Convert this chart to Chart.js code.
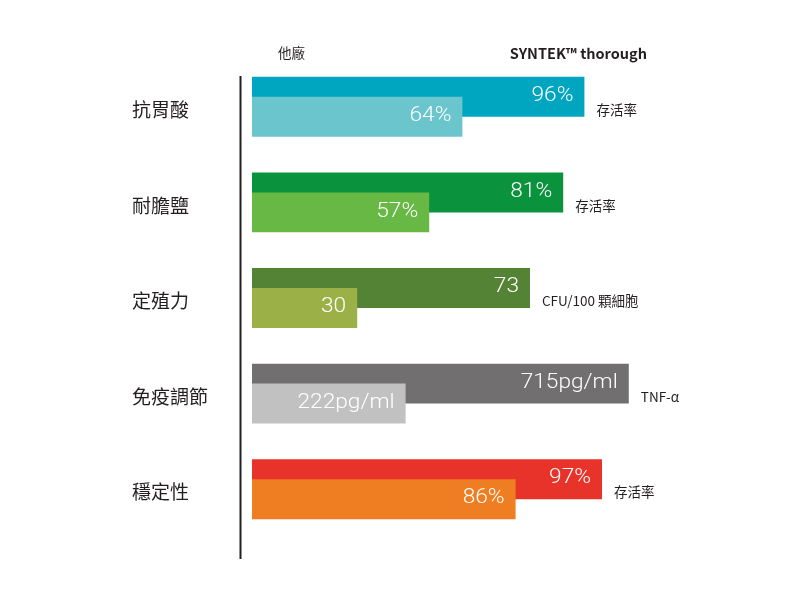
<!DOCTYPE html>
<html>
<head>
<meta charset="utf-8">
<script src="https://cdn.jsdelivr.net/npm/chart.js@4/dist/chart.umd.min.js"></script>
<style>
  html, body { margin: 0; padding: 0; background: #ffffff; }
  #wrap { width: 800px; height: 600px; }
</style>
</head>
<body>
<div id="wrap"><canvas id="c"></canvas></div>
<script>
// ---- data ----
const categories = ['抗胃酸', '耐膽鹽', '定殖力', '免疫調節', '穩定性'];
const seriesNames = ['SYNTEK™ thorough', '他廠'];
const syntekValues = [96, 81, 73, 715, 97];
const otherValues = [64, 57, 30, 222, 86];
const valueUnits = ['%', '%', '', 'pg/ml', '%'];
const measureLabels = ['存活率', '存活率', 'CFU/100 顆細胞', 'TNF-α', '存活率'];
// bar lengths as drawn in the picture (relative index, 0–100)
const syntekBar = [83.1, 77.8, 69.5, 94.2, 87.5];
const otherBar = [52.6, 44.3, 26.3, 38.4, 65.9];

// ---- styles ----
const syntekColors = ['#00a6bf', '#0a923c', '#548335', '#716f70', '#e8332a'];
const otherColors = ['#6bc5cc', '#67b845', '#9bb147', '#c1c1c1', '#ef7e22'];
const textColor = '#231f20';

const syntekLabels = syntekValues.map((v, i) => v + valueUnits[i]);
const otherLabels = otherValues.map((v, i) => v + valueUnits[i]);

const overlay = {
  id: 'overlay',
  beforeDatasetsDraw(chart) {
    // draw SYNTEK bars first so the competitor bars overlap them
    for (let i = 0; i < chart.data.datasets.length; i++) {
      const meta = chart.getDatasetMeta(i);
      if (!meta.hidden) meta.controller.draw();
    }
    return false;
  },
  afterDraw(chart) {
    const ctx = chart.ctx;
    const area = chart.chartArea;
    const yScale = chart.scales.y;
    ctx.save();

    // vertical axis line
    ctx.strokeStyle = textColor;
    ctx.lineWidth = 2;
    ctx.beginPath();
    ctx.moveTo(area.left - 11.5, area.top + 17);
    ctx.lineTo(area.left - 11.5, area.bottom + 22);
    ctx.stroke();

    // value labels inside bars
    const drawVal = (el, text) => {
      ctx.save();
      ctx.font = '300 21px Roboto';
      ctx.fillStyle = '#ffffff';
      ctx.textAlign = 'right';
      ctx.textBaseline = 'middle';
      ctx.translate(el.x - 11, el.y - 1);
      ctx.scale(1.08, 1);
      ctx.fillText(text, 0, 0);
      ctx.restore();
    };
    const m0 = chart.getDatasetMeta(0);
    const m1 = chart.getDatasetMeta(1);
    m0.data.forEach((el, i) => drawVal(el, syntekLabels[i]));
    m1.data.forEach((el, i) => drawVal(el, otherLabels[i]));

    // measure labels to the right of bars
    ctx.font = '13.5px "Noto Sans CJK TC"';
    ctx.fillStyle = textColor;
    ctx.textAlign = 'left';
    ctx.textBaseline = 'middle';
    m0.data.forEach((el, i) => {
      ctx.fillText(measureLabels[i], el.x + 12, yScale.getPixelForValue(i) + 3);
    });

    // series headers
    ctx.font = '13.5px "Noto Sans CJK TC"';
    ctx.textAlign = 'left';
    ctx.fillText(seriesNames[1], area.left + 26, 53);
    ctx.font = 'bold 14.5px "Noto Sans CJK TC"';
    ctx.textAlign = 'right';
    ctx.fillText(seriesNames[0], area.left + 395, 53);

    ctx.restore();
  }
};

new Chart(document.getElementById('c'), {
  type: 'bar',
  data: {
    labels: categories,
    datasets: [
      { label: seriesNames[0], data: syntekBar, backgroundColor: syntekColors,
        borderWidth: 0, barPercentage: 2, categoryPercentage: 0.418 },
      { label: seriesNames[1], data: otherBar, backgroundColor: otherColors,
        borderWidth: 0, barPercentage: 2, categoryPercentage: 0.418 }
    ]
  },
  plugins: [overlay],
  options: {
    indexAxis: 'y',
    responsive: true,
    maintainAspectRatio: false,
    animation: false,
    layout: { padding: { left: 132, right: 148, top: 59, bottom: 63 } },
    plugins: { legend: { display: false }, tooltip: { enabled: false } },
    scales: {
      x: { display: false, min: 0, max: 100 },
      y: {
        grid: { display: false },
        border: { display: false },
        ticks: {
          crossAlign: 'far',
          labelOffset: 3,
          padding: 0,
          color: textColor,
          font: { family: '"Noto Sans CJK TC"', size: 19 }
        },
        afterFit(scale) { scale.width = 120; }
      }
    }
  }
});
</script>
</body>
</html>
